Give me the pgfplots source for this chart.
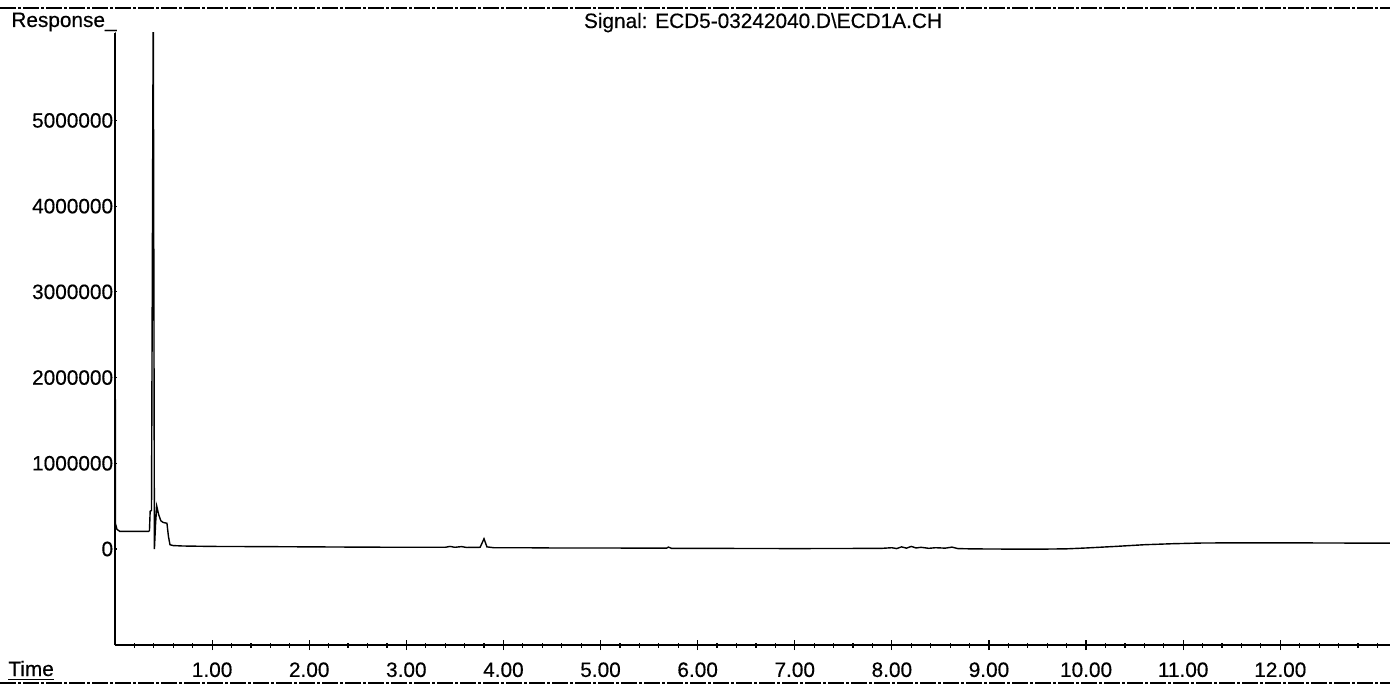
\documentclass[border=0pt]{standalone}
\usepackage{fontspec}
\setmainfont{Liberation Sans}[FakeBold=0.4]
\usepackage{pgfplots}
\pgfplotsset{compat=1.18}
\pgfplotstableread{
t v
0.000 6500000
0.004 300000
0.020 230000
0.050 205000
0.345 205000
0.355 215000
0.362 440000
0.376 450000
0.394 6500000
0.406 0
0.418 300000
0.430 500000
0.450 400000
0.472 330000
0.496 310000
0.535 300000
0.550 150000
0.566 50000
0.600 40000
0.700 35000
1.000 30000
1.500 28000
2.000 25000
2.500 22000
3.000 20000
3.400 20000
3.450 30000
3.500 20000
3.570 28000
3.620 18000
3.760 20000
3.800 120000
3.830 25000
3.900 15000
4.200 15000
4.500 12000
5.000 12000
5.500 10000
5.680 10000
5.700 22000
5.730 8000
6.000 8000
6.500 6000
7.000 5000
7.500 6000
7.900 8000
8.000 15000
8.050 5000
8.100 25000
8.150 10000
8.200 30000
8.250 12000
8.300 20000
8.380 8000
8.450 15000
8.550 10000
8.620 22000
8.680 5000
8.800 2000
9.000 0
9.500 -2000
9.800 2000
10.000 12000
10.300 30000
10.600 50000
10.900 62000
11.200 70000
11.600 72000
12.000 72000
12.500 70000
13.130 68000
}\chrom
\pgfplotsset{
  common/.style={
    at={(57.5pt,21pt)}, anchor=south west,
    width=637.5pt, height=306pt, scale only axis,
    xmin=0, xmax=13.13, ymin=-1120000, ymax=6020000,
    tick align=outside,
    tick style={line width=0.6pt, black},
    every tick label/.append style={font=\fontsize{10.4pt}{12pt}\selectfont},
    /pgf/number format/assume math mode=true,
    scaled y ticks=false,
  }
}
\begin{document}
\begin{tikzpicture}
\path[use as bounding box] (0,0) rectangle (695pt,343.5pt);
\begin{axis}[common,
  axis x line=bottom, axis y line=left,
  axis line style={-, line width=0.7pt},
  xtick={1,2,...,12},
  xticklabels={1.00,2.00,3.00,4.00,5.00,6.00,7.00,8.00,9.00,10.00,11.00,12.00},
  minor xtick={0.2,0.4,...,13.05},
  major tick length=5pt, minor tick length=2.5pt,
  xticklabel style={inner sep=0pt, yshift=-6pt},
  ytick=\empty,
  clip=true,
]
\addplot[black, line width=0.7pt, no markers] table[x=t, y=v] {\chrom};
\end{axis}
\begin{axis}[common,
  axis x line=none, axis y line=left,
  axis line style={-, line width=0.7pt},
  xtick=\empty,
  ytick={0,1000000,2000000,3000000,4000000,5000000},
  yticklabels={0,1000000,2000000,3000000,4000000,5000000},
  major tick length=1.5pt,
  yticklabel style={inner sep=0pt, xshift=0pt},
]
\end{axis}
\node[anchor=base east, inner sep=0pt, font=\fontsize{10.4pt}{12pt}\selectfont] at (58.5pt,330pt) {Response\_};
\node[anchor=base, inner sep=0pt, font=\fontsize{10.4pt}{12pt}\selectfont] at (381.5pt,329.5pt) {Signal: ECD5-03242040.D\textbackslash ECD1A.CH};
\node[anchor=base west, inner sep=0pt, font=\fontsize{10.4pt}{12pt}\selectfont] at (4pt,5.5pt) {\underline{Time}};
\draw[line width=0.6pt, dash pattern=on 8pt off 1pt on 1.5pt off 1pt] (0,339.5pt) -- (695pt,339.5pt);
\draw[line width=0.6pt, dash pattern=on 8pt off 1pt on 1.5pt off 1pt] (0,2pt) -- (695pt,2pt);
\end{tikzpicture}
\end{document}
